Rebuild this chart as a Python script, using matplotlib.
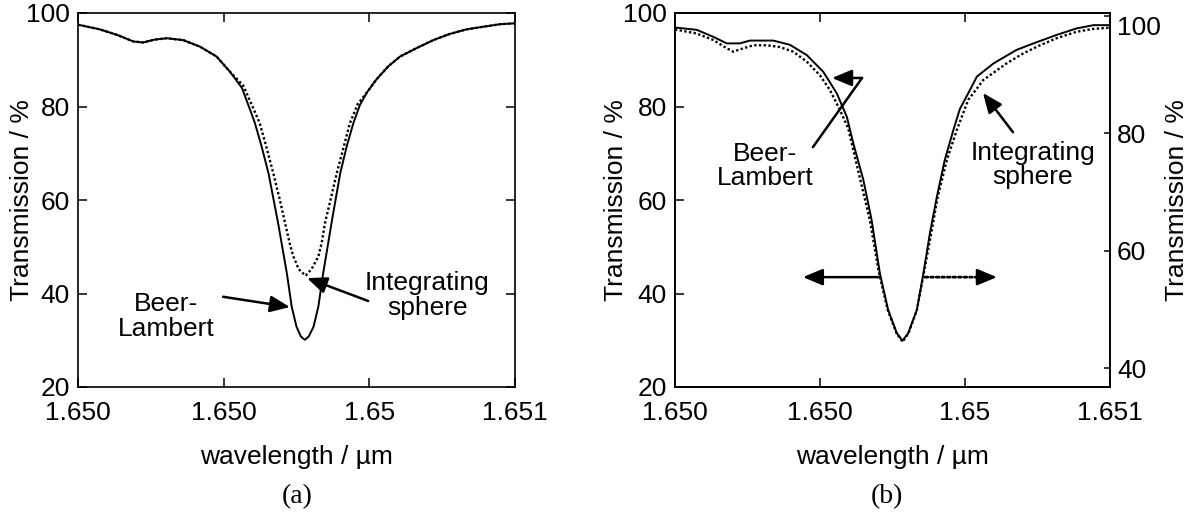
import matplotlib
matplotlib.use("Agg")
import matplotlib.pyplot as plt

plt.rcParams['font.family'] = ['Liberation Sans', 'DejaVu Sans']

# ---------------- data ----------------
xtick_values = [1.6500, 1.6503333, 1.6506667, 1.6510]
xtick_labels = ["1.650", "1.650", "1.65", "1.651"]
ytick_left = [20, 40, 60, 80, 100]
ytick_right = [40, 60, 80, 100]

# (a) Beer-Lambert (solid)
a_bl_wl = [1.65000, 1.65005, 1.65009, 1.650127, 1.650149, 1.650175, 1.650203, 1.650241, 1.650279,
           1.650317, 1.650348, 1.650375, 1.650397, 1.650405, 1.650420, 1.650436, 1.650458, 1.650478,
           1.650489, 1.650500, 1.650510, 1.650519, 1.650528, 1.650539, 1.650550, 1.650561, 1.650580,
           1.650600, 1.650615, 1.650630, 1.650645, 1.650661, 1.650683, 1.650710, 1.650737, 1.650775,
           1.650813, 1.650850, 1.650889, 1.650930, 1.650966, 1.651000]
a_bl_T = [97.5, 96.5, 95.3, 93.9, 93.7, 94.3, 94.6, 94.2, 92.8,
          90.7, 87.4, 84.0, 78.5, 76.4, 71.5, 65.7, 55.0, 44.3,
          37.2, 32.9, 30.8, 30.1, 30.8, 32.9, 37.2, 44.3, 55.0,
          65.7, 71.5, 76.4, 80.3, 83.0, 85.8, 88.6, 90.7, 92.5,
          94.2, 95.5, 96.5, 97.1, 97.6, 97.8]

# (a) Integrating sphere (dotted)
a_is_wl = [1.65000, 1.65005, 1.65009, 1.650127, 1.650149, 1.650175, 1.650203, 1.650241, 1.650279,
           1.650317, 1.650348, 1.650378, 1.650397, 1.650416, 1.650432, 1.650447, 1.650462, 1.650474,
           1.650485, 1.650493, 1.650505, 1.650521, 1.650535, 1.650550, 1.650558, 1.650565, 1.650579,
           1.650592, 1.650607, 1.650622, 1.650640, 1.650661, 1.650683, 1.650710, 1.650737, 1.650775,
           1.650813, 1.650850, 1.650889, 1.650930, 1.650966, 1.651000]
a_is_T = [97.5, 96.5, 95.3, 93.9, 93.7, 94.3, 94.6, 94.2, 92.8,
          90.7, 87.4, 84.5, 80.5, 76.4, 71.0, 65.7, 60.0, 55.0,
          50.5, 47.9, 45.2, 43.8, 45.3, 47.9, 51.0, 55.0, 60.5,
          65.7, 71.0, 76.4, 80.5, 83.0, 85.8, 88.6, 90.7, 92.5,
          94.2, 95.5, 96.5, 97.1, 97.6, 97.8]

# (b) Beer-Lambert (solid, left axis)
b_bl_wl = [1.65000, 1.65005, 1.650088, 1.650119, 1.650149, 1.650172, 1.650226, 1.650264, 1.650303,
           1.650341, 1.650372, 1.650395, 1.650410, 1.650433, 1.650452, 1.650471, 1.650490, 1.650510,
           1.650523, 1.650536, 1.650556, 1.650571, 1.650586, 1.650602, 1.650620, 1.650640, 1.650655,
           1.650674, 1.650694, 1.650732, 1.650785, 1.650824, 1.650877, 1.650923, 1.650962, 1.651000]
b_bl_T = [96.9, 96.4, 94.9, 93.5, 93.5, 94.1, 94.1, 93.2, 91.0,
          87.4, 82.8, 77.8, 72.1, 64.3, 55.7, 44.3, 36.5, 31.5,
          29.9, 31.5, 36.5, 44.3, 52.9, 60.7, 68.5, 75.0, 79.5,
          82.8, 86.4, 89.2, 92.1, 93.5, 95.3, 96.7, 97.4, 97.4]

# (b) Integrating sphere (dotted, right axis)
b_is_wl = [1.65000, 1.65005, 1.650088, 1.650119, 1.650134, 1.650149, 1.650180, 1.650211, 1.650241,
           1.650272, 1.650303, 1.650333, 1.650356, 1.650379, 1.650398, 1.650426, 1.650448, 1.650469,
           1.650489, 1.650509, 1.650523, 1.650537, 1.650556, 1.650572, 1.650589, 1.650604, 1.650625,
           1.650648, 1.650674, 1.650709, 1.650762, 1.650800, 1.650839, 1.650877, 1.650923, 1.650962,
           1.651000]
b_is_T = [97.7, 97.0, 95.9, 94.5, 93.9, 94.3, 95.0, 95.0, 94.7,
          93.9, 92.2, 89.9, 87.4, 84.0, 80.9, 72.1, 65.2, 56.2,
          49.9, 46.0, 44.5, 46.0, 49.9, 56.2, 63.0, 69.2, 75.5,
          80.6, 85.7, 89.1, 91.9, 93.6, 95.0, 96.2, 97.3, 97.8,
          98.0]

# ---------------- style ----------------
FS = 19
LW = 1.4
DOT = (0, (1, 1))
HEAD = dict(arrowstyle='-|>,head_length=0.6,head_width=0.25', mutation_scale=20,
            color='black', lw=1.8, shrinkA=0, shrinkB=0)
LINE = dict(arrowstyle='-', color='black', lw=1.8, shrinkA=0, shrinkB=0)

fig = plt.figure(figsize=(11.91, 5.15), dpi=100)
axa = fig.add_axes([78/1191, 1-387/515, 437/1191, 374/515])
axb = fig.add_axes([675/1191, 1-387/515, 435/1191, 374/515])


def frame(ax, right=True):
    ax.set_xlim(xtick_values[0], xtick_values[-1])
    ax.set_ylim(20, 100)
    ax.set_xticks(xtick_values)
    ax.set_xticklabels(xtick_labels)
    ax.set_yticks(ytick_left)
    ax.tick_params(direction='in', length=6.5, width=1.1, top=True, right=right,
                   labelsize=FS, colors='black')
    ax.tick_params(axis='x', pad=10)
    ax.tick_params(axis='y', pad=6)
    for s in ax.spines.values():
        s.set_linewidth(1.2)
    ax.set_xlabel('wavelength / µm', fontsize=FS)
    ax.set_ylabel('Transmission / %', fontsize=FS)
    ax.xaxis.set_label_coords(0.5, -0.155)


# ---- panel (a)
frame(axa, right=True)
axa.yaxis.set_label_coords(-0.10, 0.5)
axa.plot(a_bl_wl, a_bl_T, color='black', lw=LW, solid_joinstyle='round')
axa.plot(a_is_wl, a_is_T, color='black', lw=1.7, linestyle=DOT)

axa.annotate('', xy=(1.650485, 37.1), xytext=(1.650332, 39.3), arrowprops=HEAD)
axa.annotate('', xy=(1.650524, 43.3), xytext=(1.650664, 38.4), arrowprops=HEAD)
axa.text(1.650201, 35.0, 'Beer-\nLambert', fontsize=FS, ha='center', va='center',
         multialignment='center', linespacing=1.05)
axa.text(1.650799, 39.6, 'Integrating\nsphere', fontsize=FS, ha='center', va='center',
         multialignment='center', linespacing=1.05)

# ---- panel (b)
frame(axb, right=False)
axb.yaxis.set_label_coords(-0.108, 0.5)
axb.plot(b_bl_wl, b_bl_T, color='black', lw=LW, solid_joinstyle='round')

axb2 = axb.twinx()
axb2.set_ylim(36.8, 100.5)
axb2.set_yticks(ytick_right)
axb2.tick_params(direction='in', length=4.5, width=1.1, labelsize=FS, pad=5)
for s in axb2.spines.values():
    s.set_linewidth(1.2)
axb2.plot(b_is_wl, b_is_T, color='black', lw=1.7, linestyle=DOT)
axb2.set_ylabel('Transmission / %', fontsize=FS)
axb2.yaxis.set_label_coords(1.126, 0.5)
axb2.yaxis.get_major_ticks()[-1].label2.set_verticalalignment('top')

# bent Beer-Lambert pointer
axb.annotate('', xy=(1.650430, 86.1), xytext=(1.650317, 71.3), arrowprops=LINE)
axb.annotate('', xy=(1.650361, 86.1), xytext=(1.650430, 86.1), arrowprops=HEAD)
axb.text(1.650207, 67.3, 'Beer-\nLambert', fontsize=FS, ha='center', va='center',
         multialignment='center', linespacing=1.0)
# Integrating sphere pointer
axb.annotate('', xy=(1.650708, 82.9), xytext=(1.650777, 74.5), arrowprops=HEAD)
axb.text(1.650823, 67.5, 'Integrating\nsphere', fontsize=FS, ha='center', va='center',
         multialignment='center', linespacing=1.0)
# axis-direction arrows
axb.annotate('', xy=(1.650294, 43.5), xytext=(1.650471, 43.5), arrowprops=HEAD)
axb.annotate('', xy=(1.650700, 43.5), xytext=(1.650575, 43.5),
             arrowprops=dict(LINE, linestyle=(0, (1, 1)), lw=2.0))
axb.annotate('', xy=(1.650740, 43.5), xytext=(1.650700, 43.5), arrowprops=HEAD)

# captions
fig.text(297/1191, 1-497/515, '(a)', ha='center', va='center',
         family='Liberation Serif', fontsize=20)
fig.text(887/1191, 1-497/515, '(b)', ha='center', va='center',
         family='Liberation Serif', fontsize=20)

fig.savefig('out.png', dpi=100)
